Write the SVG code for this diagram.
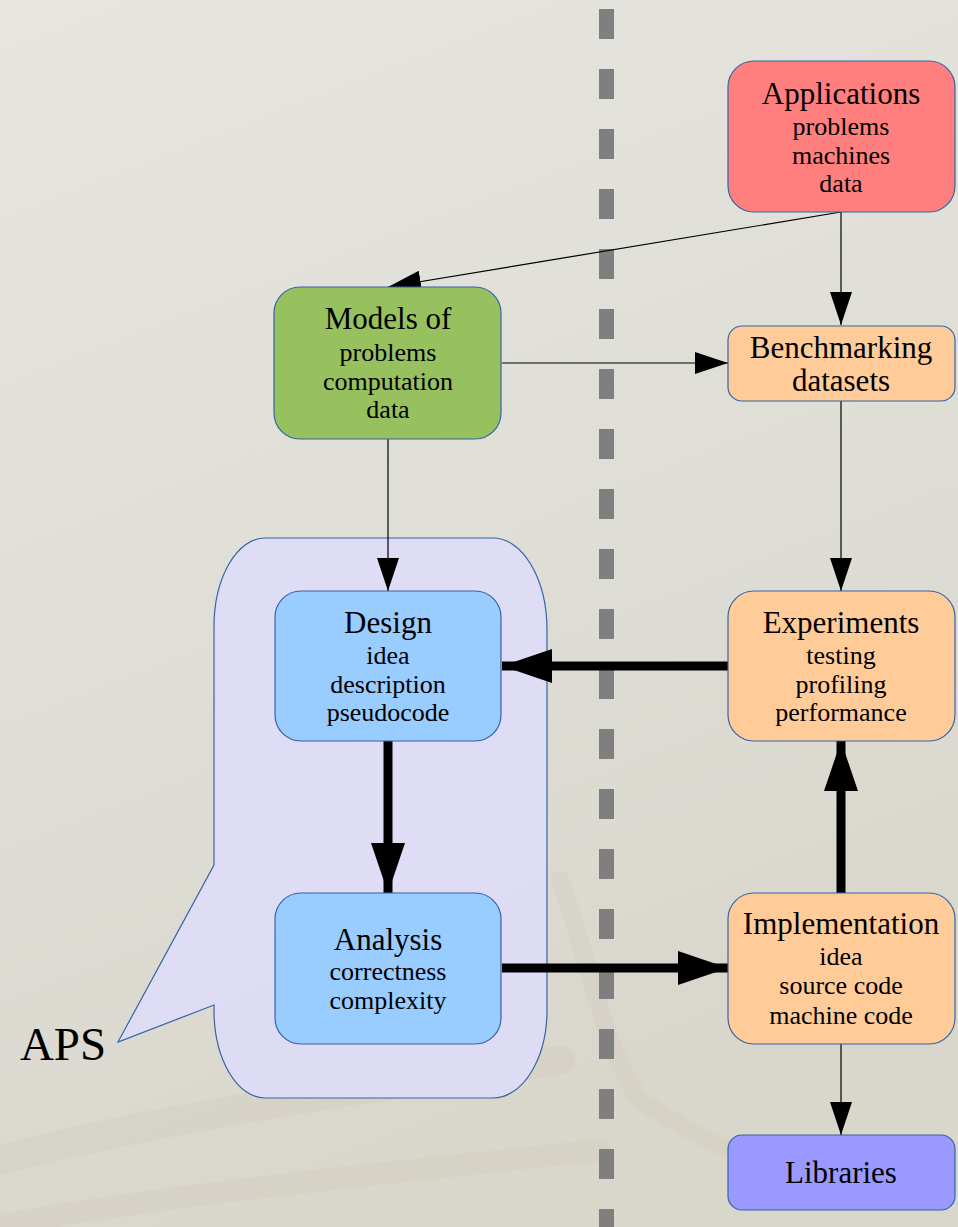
<svg xmlns="http://www.w3.org/2000/svg" width="958" height="1227" viewBox="0 0 958 1227">
<style>
.box{stroke:#3465a4;stroke-width:1.2}
.t{font-family:"Liberation Serif","Times New Roman",serif;font-size:31px;text-anchor:middle;fill:#000}
.s{font-family:"Liberation Serif","Times New Roman",serif;font-size:26px;text-anchor:middle;fill:#000}
.thin{stroke:#000;stroke-width:1.2;fill:none}
.thick{stroke:#000;stroke-width:9;fill:none}
</style>
<defs>
<linearGradient id="bg" x1="0" y1="0" x2="0.3" y2="1">
<stop offset="0" stop-color="#e6e5df"/>
<stop offset="0.5" stop-color="#dfdfd8"/>
<stop offset="1" stop-color="#d9d6cc"/>
</linearGradient>
<marker id="ah" markerUnits="userSpaceOnUse" markerWidth="33" markerHeight="22" viewBox="0 0 33 22" refX="33" refY="11" orient="auto"><path d="M0,0 L33,11 L0,22 Z" fill="#000"/></marker>
<marker id="AH" markerUnits="userSpaceOnUse" markerWidth="50" markerHeight="34" viewBox="0 0 50 34" refX="50" refY="17" orient="auto"><path d="M0,0 L50,17 L0,34 Z" fill="#000"/></marker>
</defs>
<rect x="0" y="0" width="958" height="1227" fill="url(#bg)"/>
<g id="texture" fill="none" stroke="#c9c1b0" stroke-linecap="round" opacity="0.18">
<path d="M0 1160 C150 1120 350 1090 560 1060" stroke-width="30"/>
<path d="M560 880 C590 960 600 1040 640 1100 C700 1140 760 1170 840 1180" stroke-width="18"/>
<path d="M0 1225 C200 1190 420 1170 600 1150" stroke-width="22"/>
</g>
<line id="divider" x1="606.5" y1="9" x2="606.5" y2="1227" stroke="#7f7f7f" stroke-width="15" stroke-dasharray="30 30"/>
<g id="APS">
<path d="M265 538 L493 538 A54 92 0 0 1 547 630 L547 1010 A54 88 0 0 1 493 1098 L265 1098 A51 88 0 0 1 214 1010 L214 1005 L118 1042 L214 865 L214 627 A51 89 0 0 1 265 538 Z" fill="#dedcf7" fill-opacity="0.95" stroke="#3465a4" stroke-width="1.2"/>
<text x="63" y="1060" font-family="'Liberation Serif','Times New Roman',serif" font-size="47" text-anchor="middle" fill="#000">APS</text>
</g>
<g id="connectors">
<line class="thin" x1="841" y1="212" x2="841" y2="325" marker-end="url(#ah)"/>
<line class="thin" x1="841" y1="212" x2="388" y2="287" marker-end="url(#ah)"/>
<line class="thin" x1="502" y1="363" x2="728" y2="363" marker-end="url(#ah)"/>
<line class="thin" x1="388" y1="439" x2="388" y2="591" marker-end="url(#ah)"/>
<line class="thin" x1="841" y1="401" x2="841" y2="591" marker-end="url(#ah)"/>
<line class="thin" x1="841" y1="1044" x2="841" y2="1135" marker-end="url(#ah)"/>
<line class="thick" x1="728" y1="666" x2="502" y2="666" marker-end="url(#AH)"/>
<line class="thick" x1="388" y1="741" x2="388" y2="893" marker-end="url(#AH)"/>
<line class="thick" x1="502" y1="968" x2="728" y2="968" marker-end="url(#AH)"/>
<line class="thick" x1="841" y1="893" x2="841" y2="741" marker-end="url(#AH)"/>
</g>
<g id="applications">
<rect class="box" x="728" y="61" width="227" height="151" rx="26" fill="#ff7f7f"/>
<text class="t" x="841" y="104">Applications</text>
<text class="s" x="841" y="135">problems</text>
<text class="s" x="841" y="164">machines</text>
<text class="s" x="841" y="192">data</text>
</g>
<g id="models">
<rect class="box" x="274" y="287" width="227" height="152" rx="26" fill="#97c05e"/>
<text class="t" x="388" y="329">Models of</text>
<text class="s" x="388" y="361">problems</text>
<text class="s" x="388" y="390">computation</text>
<text class="s" x="388" y="418">data</text>
</g>
<g id="benchmarking">
<rect class="box" x="728" y="326" width="227" height="75" rx="14" fill="#ffcc99"/>
<text class="t" x="841" y="358">Benchmarking</text>
<text class="t" x="841" y="391">datasets</text>
</g>
<g id="experiments">
<rect class="box" x="728" y="591" width="227" height="150" rx="26" fill="#ffcc99"/>
<text class="t" x="841" y="633">Experiments</text>
<text class="s" x="841" y="664">testing</text>
<text class="s" x="841" y="693">profiling</text>
<text class="s" x="841" y="721">performance</text>
</g>
<g id="design">
<rect class="box" x="275" y="591" width="226" height="150" rx="26" fill="#99ccff"/>
<text class="t" x="388" y="633">Design</text>
<text class="s" x="388" y="664">idea</text>
<text class="s" x="388" y="693">description</text>
<text class="s" x="388" y="721">pseudocode</text>
</g>
<g id="analysis">
<rect class="box" x="275" y="893" width="226" height="151" rx="26" fill="#99ccff"/>
<text class="t" x="388" y="950">Analysis</text>
<text class="s" x="388" y="980">correctness</text>
<text class="s" x="388" y="1009">complexity</text>
</g>
<g id="implementation">
<rect class="box" x="728" y="893" width="227" height="151" rx="26" fill="#ffcc99"/>
<text class="t" x="841" y="934">Implementation</text>
<text class="s" x="841" y="965">idea</text>
<text class="s" x="841" y="994">source code</text>
<text class="s" x="841" y="1024">machine code</text>
</g>
<g id="libraries">
<rect class="box" x="728" y="1135" width="227" height="75" rx="14" fill="#9999ff"/>
<text class="t" x="841" y="1183">Libraries</text>
</g>
</svg>
